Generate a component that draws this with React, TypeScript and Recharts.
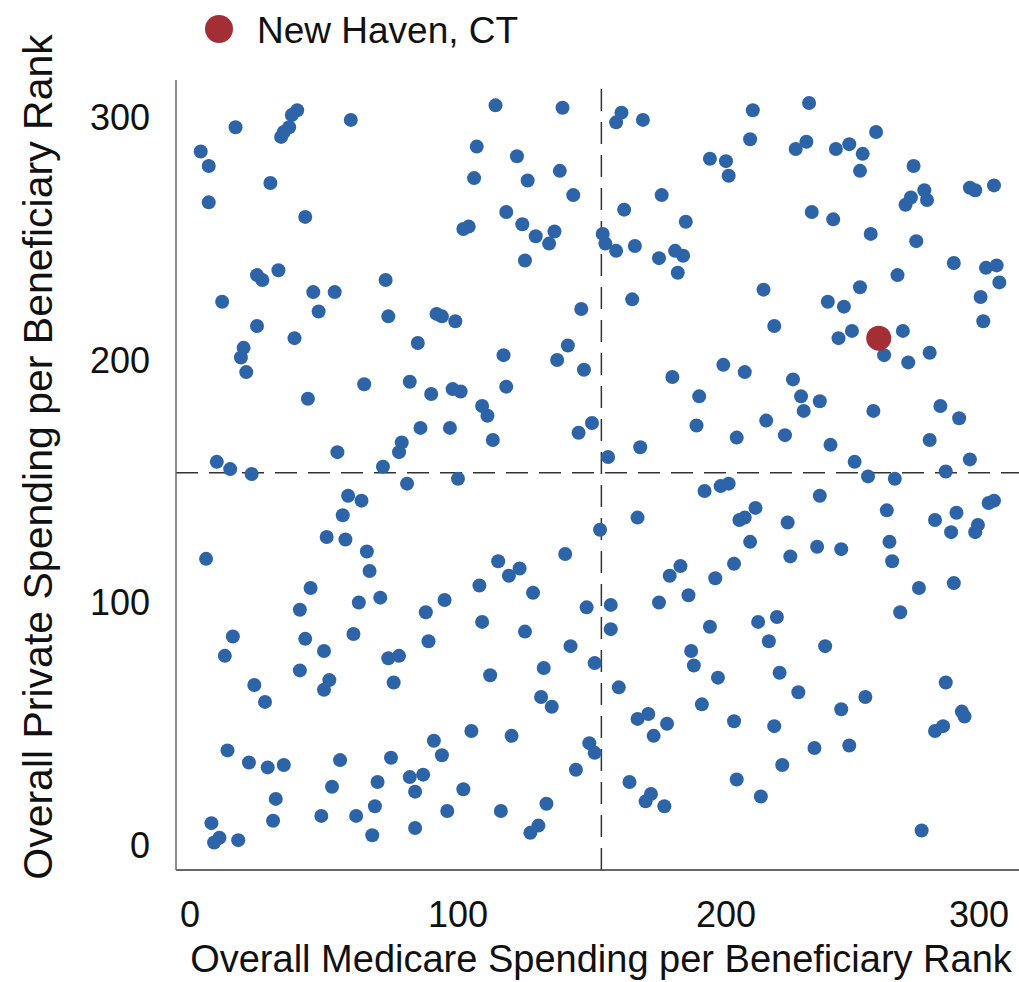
import React from 'react';
import { ScatterChart, Scatter, XAxis, YAxis, ReferenceLine } from 'recharts';

// Overall Medicare spending per beneficiary rank (x) for each HRR
const medicareRank = [
  17, 40, 38, 37, 35, 34, 60, 4, 7, 30, 7, 43, 25, 27, 33, 46, 54, 73, 12, 48, 74, 92, 94, 99, 25, 39, 20, 85,
  114, 139, 161, 159, 169, 107, 122, 138, 106, 126, 194, 200, 201, 143, 176, 162, 118, 185, 124, 102, 104, 136,
  129, 134, 154, 155, 159, 166, 175, 181, 184, 182, 125, 165, 146, 141,
  210, 231, 209, 230, 226, 241, 246, 256, 251, 250, 270, 274, 269, 267, 275, 291, 293, 300, 232, 240, 254, 271,
  285, 297, 301, 302, 295, 296, 264, 214, 250, 238, 244, 218, 247, 242, 266,
  19, 21, 65, 82, 44, 90, 98, 101, 86, 97, 79, 78, 55, 72, 10, 15, 23, 81, 100, 59, 64, 57, 51, 58, 66, 67, 6,
  45, 71, 63, 95, 41, 88,
  117, 137, 147, 118, 109, 111, 113, 145, 150, 156, 168, 180, 199, 190, 189, 204, 192, 198, 201, 167, 153, 205,
  140, 115, 123, 119, 108, 128, 183, 179, 203, 196, 186, 175, 157, 148,
  259, 268, 276, 207, 225, 228, 235, 229, 255, 280, 287, 215, 222, 239, 276, 291, 248, 253, 263, 282, 235, 211,
  207, 223, 260, 278, 286, 298, 300, 284, 294, 293, 209, 234, 243, 261, 224, 262, 272, 285, 265,
  16, 13, 43, 61, 89, 50, 74, 78, 41, 52, 50, 24, 76, 28, 14, 22, 29, 35, 56, 75, 91, 94, 53, 70, 82, 87, 84, 32,
  31, 49, 62, 69, 68, 84, 96, 102, 8, 11, 9, 18,
  109, 125, 142, 157, 194, 151, 187, 188, 197, 112, 132, 131, 135, 160, 191, 167, 171, 178, 173, 203, 105, 120,
  149, 151, 144, 164, 172, 170, 177, 204, 116, 133, 130, 127,
  212, 219, 216, 237, 220, 227, 243, 252, 218, 233, 246, 221, 213, 282, 288, 289, 281, 278, 273,
];

// Overall private spending per beneficiary rank (y) for each HRR
const privateRank = [
  296, 303, 301, 296, 294, 292, 299, 286, 280, 273, 265, 259, 235, 233, 237, 228, 228, 233, 224, 220, 218, 219,
  218, 216, 214, 209, 205, 207,
  305, 304, 302, 298, 299, 288, 284, 278, 275, 274, 283, 282, 276, 268, 268, 262, 261, 257, 256, 254, 255, 253,
  251, 248, 252, 248, 245, 247, 242, 245, 243, 236, 241, 225, 221, 206,
  303, 306, 291, 290, 287, 287, 289, 294, 285, 278, 280, 270, 267, 264, 266, 271, 270, 272, 261, 258, 252, 249,
  240, 238, 239, 232, 226, 216, 235, 229, 230, 224, 222, 214, 212, 209, 212,
  201, 195, 190, 191, 184, 186, 188, 187, 172, 172, 166, 162, 162, 156, 158, 155, 153, 149, 151, 144, 142, 136,
  127, 126, 121, 113, 118, 106, 102, 100, 101, 97, 96,
  202, 200, 196, 189, 181, 177, 167, 170, 174, 160, 164, 193, 198, 185, 173, 168, 146, 148, 149, 135, 130, 134,
  120, 117, 114, 111, 107, 104, 115, 111, 116, 110, 103, 100, 99, 98,
  202, 199, 203, 195, 192, 185, 183, 179, 179, 181, 176, 175, 169, 165, 167, 159, 158, 152, 151, 154, 144, 139,
  135, 133, 138, 134, 137, 141, 142, 129, 132, 129, 125, 123, 122, 125, 119, 117, 106, 108, 96,
  86, 78, 85, 87, 84, 80, 77, 78, 72, 68, 64, 66, 67, 59, 39, 34, 32, 33, 35, 36, 43, 37, 24, 26, 28, 29, 22, 19,
  10, 12, 12, 16, 4, 7, 14, 23, 9, 3, 1, 2,
  92, 88, 82, 89, 90, 75, 80, 74, 69, 70, 73, 61, 57, 65, 58, 52, 54, 50, 45, 51, 47, 45, 42, 38, 31, 26, 21, 18,
  16, 27, 14, 17, 8, 5,
  92, 94, 84, 82, 71, 63, 56, 61, 49, 40, 41, 33, 20, 67, 55, 53, 49, 47, 6,
];

// Highlighted HRR
const newHavenMedicare = [257];
const newHavenPrivate = [209];
const highlightName = 'New Haven, CT';

const xTicks = [0, 100, 200, 300];
const yTicks = [0, 100, 200, 300];
const medianRank = 153.5;

const BLUE = '#2d64a8';
const RED = '#a32e36';
const FONT = '"Liberation Sans", Arial, Helvetica, sans-serif';

const allPoints = medicareRank.map((x, i) => ({ x, y: privateRank[i] }));
const highlightPoints = newHavenMedicare.map((x, i) => ({ x, y: newHavenPrivate[i] }));

const blueDot = (p: any) => <circle cx={p.cx} cy={p.cy} r={7} fill={BLUE} />;
const redDot = (p: any) => <circle cx={p.cx} cy={p.cy} r={12.5} fill={RED} />;

const xTick = (p: any) => {
  const v = p.payload.value;
  const shift = v === xTicks[xTicks.length - 1] ? -15 : 0;
  return (
    <text x={p.x + shift} y={p.y} dy="0.71em" textAnchor="middle" fontSize={36} fontFamily={FONT} fill="#111">
      {v}
    </text>
  );
};

export default function App() {
  return (
    <div style={{ position: 'absolute', left: 0, top: 0, width: 1019, height: 982, overflow: 'hidden', background: '#fff' }}>
      <div style={{ position: 'absolute', left: 0, top: 0 }}>
        <ScatterChart width={1019} height={982} margin={{ top: 80, right: 0, bottom: 52, left: 96 }}>
          <XAxis
            type="number"
            dataKey="x"
            domain={[-5.22, 309.33]}
            ticks={xTicks}
            allowDataOverflow
            height={60}
            tickLine={false}
            tickSize={0}
            tickMargin={31}
            axisLine={{ stroke: '#333', strokeWidth: 1.5 }}
            tick={xTick}
          />
          <YAxis
            type="number"
            dataKey="y"
            domain={[-10.31, 315.46]}
            ticks={yTicks}
            allowDataOverflow
            width={80}
            tickLine={false}
            tickSize={0}
            tickMargin={26}
            axisLine={{ stroke: '#666', strokeWidth: 1.5 }}
            tick={{ fontSize: 36, fontFamily: FONT, fill: '#111' }}
          />
          <ReferenceLine x={medianRank} stroke="#333" strokeWidth={1.5} strokeDasharray="22 11" />
          <ReferenceLine y={medianRank} stroke="#333" strokeWidth={1.5} strokeDasharray="22 11" />
          <Scatter data={allPoints} shape={blueDot} isAnimationActive={false} />
          <Scatter data={highlightPoints} shape={redDot} isAnimationActive={false} />
        </ScatterChart>
      </div>
      <svg
        width={1019}
        height={982}
        style={{ position: 'absolute', left: 0, top: 0, pointerEvents: 'none' }}
      >
        <circle cx={219} cy={29} r={14} fill={RED} />
        <text x={257} y={43} fontSize={37} fontFamily={FONT} fill="#111">
          {highlightName}
        </text>
        <text x={601} y={972} textAnchor="middle" fontSize={38} fontFamily={FONT} fill="#111">
          Overall Medicare Spending per Beneficiary Rank
        </text>
        <text
          transform="translate(52, 457) rotate(-90)"
          textAnchor="middle"
          fontSize={41}
          fontFamily={FONT}
          fill="#111"
        >
          Overall Private Spending per Beneficiary Rank
        </text>
      </svg>
    </div>
  );
}
